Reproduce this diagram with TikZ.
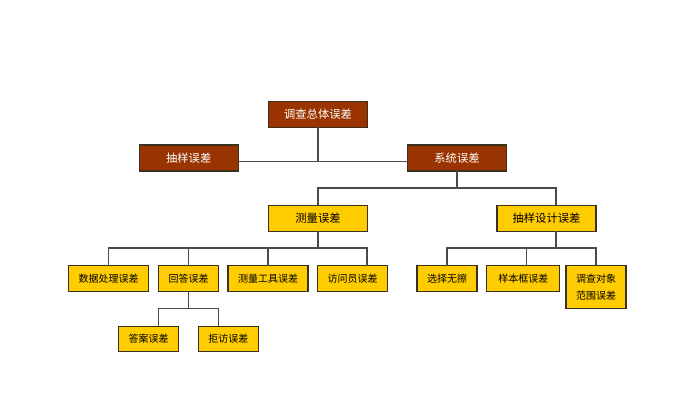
\documentclass[tikz,border=0pt]{standalone}
\usepackage{fontspec}
\newfontfamily\cjk{Noto Sans CJK SC}
\usepackage[dvipsnames]{xcolor}
\definecolor{boxbrown}{HTML}{993300}
\definecolor{boxyellow}{HTML}{FFCC00}
\definecolor{boxline}{HTML}{3A3020}
\definecolor{busline}{HTML}{4A4A4A}
\usepackage{tikz}
\usetikzlibrary{calc}
\tikzset{
  errbox/.style={draw=boxline,line width=1.3pt,inner sep=0pt,outer sep=0pt,align=center},
  topbox/.style={errbox,fill=boxbrown,text=white,minimum width=99pt,minimum height=26pt,font=\cjk\fontsize{11.3}{14}\selectfont},
  midbox/.style={errbox,fill=boxyellow,text=black,minimum width=99pt,minimum height=26pt,font=\cjk\fontsize{11.3}{14}\selectfont},
  lowbox/.style={errbox,fill=boxyellow,text=black,minimum height=25.5pt,font=\cjk\fontsize{10}{16.7}\selectfont},
  bus/.style={draw=busline,line width=1.3pt}
}

\begin{document}
\begin{tikzpicture}[x=1pt,y=-1pt]
      \useasboundingbox (0,0) rectangle (697,412);

      \node[topbox] (total) at (318,114.5) {调查总体误差};
      \node[topbox] (sampling) at (188.7,158) {抽样误差};
      \node[topbox] (system) at (457,158) {系统误差};

      \node[midbox] (measure) at (318,218.3) {测量误差};
      \node[midbox] (design) at (546.5,218.3) {抽样设计误差};

      \node[lowbox,minimum width=80pt] (data) at (108.7,278.4) {数据处理误差};
      \node[lowbox,minimum width=60pt] (answer) at (188.7,278.4) {回答误差};
      \node[lowbox,minimum width=80pt] (tool) at (268,278.4) {测量工具误差};
      \node[lowbox,minimum width=70pt] (visitor) at (352.5,278.4) {访问员误差};

      \node[lowbox,minimum width=60pt] (reply) at (148.7,339) {答案误差};
      \node[lowbox,minimum width=60pt] (refuse) at (228.3,339) {拒访误差};

      \node[lowbox,minimum width=60pt] (choice) at (447,278.4) {选择无擦};
      \node[lowbox,minimum width=73pt] (frame) at (523.3,278.4) {样本框误差};
      \node[lowbox,minimum width=60pt,minimum height=43.5pt] (scope) at (596,287) {调查对象\\范围误差};

      % total to the first row
      \coordinate (busa) at (318,161.5);
      \draw[bus] (total.south) -- (busa);
      \draw[bus] (sampling.east |- busa) -- (system.west |- busa);

      % system error
      \coordinate (busb) at (457,188);
      \coordinate (designtop) at ([xshift=9.5pt]design.north);
      \draw[bus] (system.south) -- (busb);
      \draw[bus] (measure.north) -- (measure.north |- busb) -- (designtop |- busb) -- (designtop);

      % measurement error
      \coordinate (busc) at (318,248);
      \coordinate (visitortop) at ([xshift=14.5pt]visitor.north);
      \draw[bus] (measure.south) -- (busc);
      \draw[bus] (data.north) -- (data.north |- busc) -- (visitortop |- busc) -- (visitortop);
      \draw[bus] (answer.north) -- (answer.north |- busc);
      \draw[bus] (tool.north) -- (tool.north |- busc);

      % answer error
      \coordinate (busd) at (188.7,308.7);
      \coordinate (replytop) at ([xshift=10pt]reply.north);
      \coordinate (refusetop) at ([xshift=-10pt]refuse.north);
      \draw[bus] (answer.south) -- (busd);
      \draw[bus] (replytop) -- (replytop |- busd) -- (refusetop |- busd) -- (refusetop);

      % design error
      \coordinate (buse) at (556,248);
      \coordinate (designbot) at ([xshift=9.5pt]design.south);
      \coordinate (frametop) at ([xshift=3.2pt]frame.north);
      \draw[bus] (designbot) -- (buse);
      \draw[bus] (choice.north) -- (choice.north |- buse) -- (scope.north |- buse) -- (scope.north);
      \draw[bus] (frametop) -- (frametop |- buse);
\end{tikzpicture}
\end{document}
